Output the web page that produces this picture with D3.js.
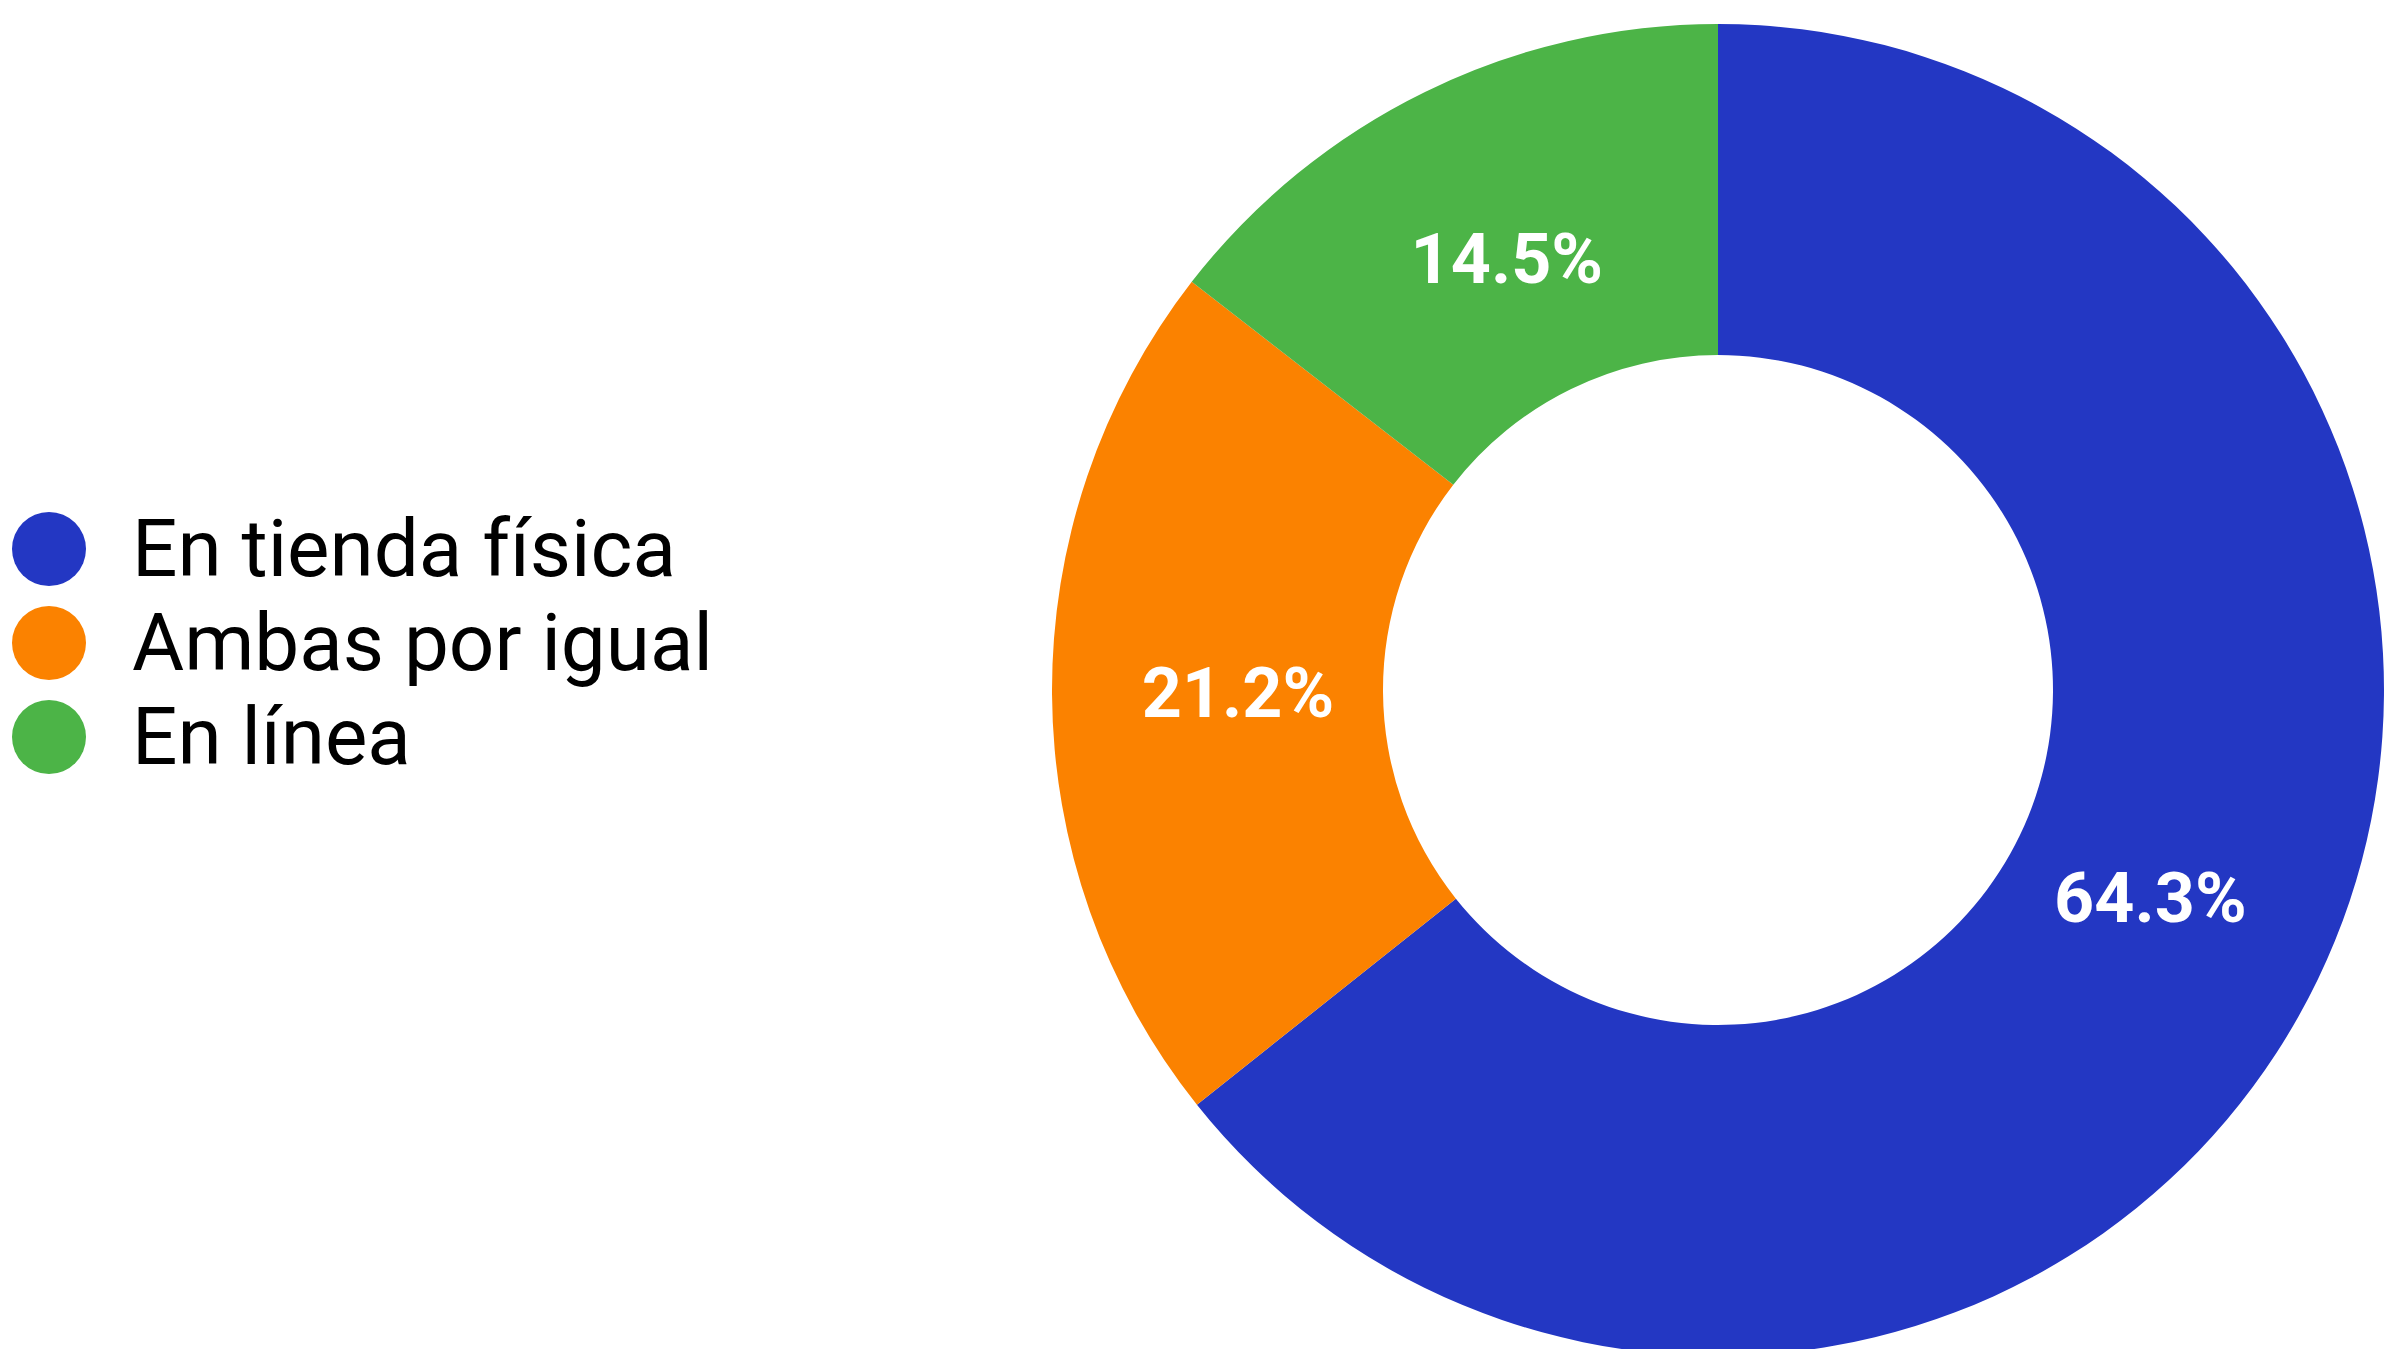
<!DOCTYPE html>
<html>
<head>
<meta charset="utf-8">
<script src="https://cdn.jsdelivr.net/npm/d3@7"></script>
<style>
html,body{margin:0;padding:0;background:#fff;}
svg{display:block;}
</style>
</head>
<body>
<svg id="chart" width="2399" height="1349"></svg>
<script>
const categories = ["En tienda física", "Ambas por igual", "En línea"];
const values = [64.3, 21.2, 14.5];
const labels = ["64.3%", "21.2%", "14.5%"];
const colors = ["#2337C3", "#FB8200", "#4CB447"];

const W = 2399, H = 1349;
const cx = 1718, cy = 690, outerR = 666, innerR = 335, labelR = 480;

const svg = d3.select("#chart");
const data = categories.map((c, i) => ({cat: c, value: values[i], label: labels[i], color: colors[i]}));

const pie = d3.pie().value(d => d.value).sort(null);
const arc = d3.arc().innerRadius(innerR).outerRadius(outerR);
const labelArc = d3.arc().innerRadius(labelR).outerRadius(labelR);

const g = svg.append("g").attr("transform", `translate(${cx},${cy})`);
const arcs = pie(data);
g.selectAll("path").data(arcs).enter().append("path")
  .attr("d", arc).attr("fill", d => d.data.color);

g.selectAll("text").data(arcs).enter().append("text")
  .attr("transform", d => `translate(${labelArc.centroid(d)})`)
  .attr("text-anchor", "middle")
  .attr("dominant-baseline", "central")
  .attr("font-family", "Roboto, sans-serif")
  .attr("font-weight", "bold")
  .attr("font-size", 70)
  .attr("fill", "#fff")
  .text(d => d.data.label);

// Legend
const legend = svg.append("g");
const ly = d3.scalePoint().domain(categories).range([549, 737]);
const items = legend.selectAll("g").data(data).enter().append("g")
  .attr("transform", d => `translate(0,${ly(d.cat)})`);
items.append("circle").attr("cx", 49).attr("cy", 0).attr("r", 37).attr("fill", d => d.color);
items.append("text").attr("x", 132).attr("y", 0)
  .attr("dominant-baseline", "central")
  .attr("font-family", "Roboto, sans-serif")
  .attr("font-size", 80)
  .attr("fill", "#000")
  .text(d => d.cat);
</script>
</body>
</html>
